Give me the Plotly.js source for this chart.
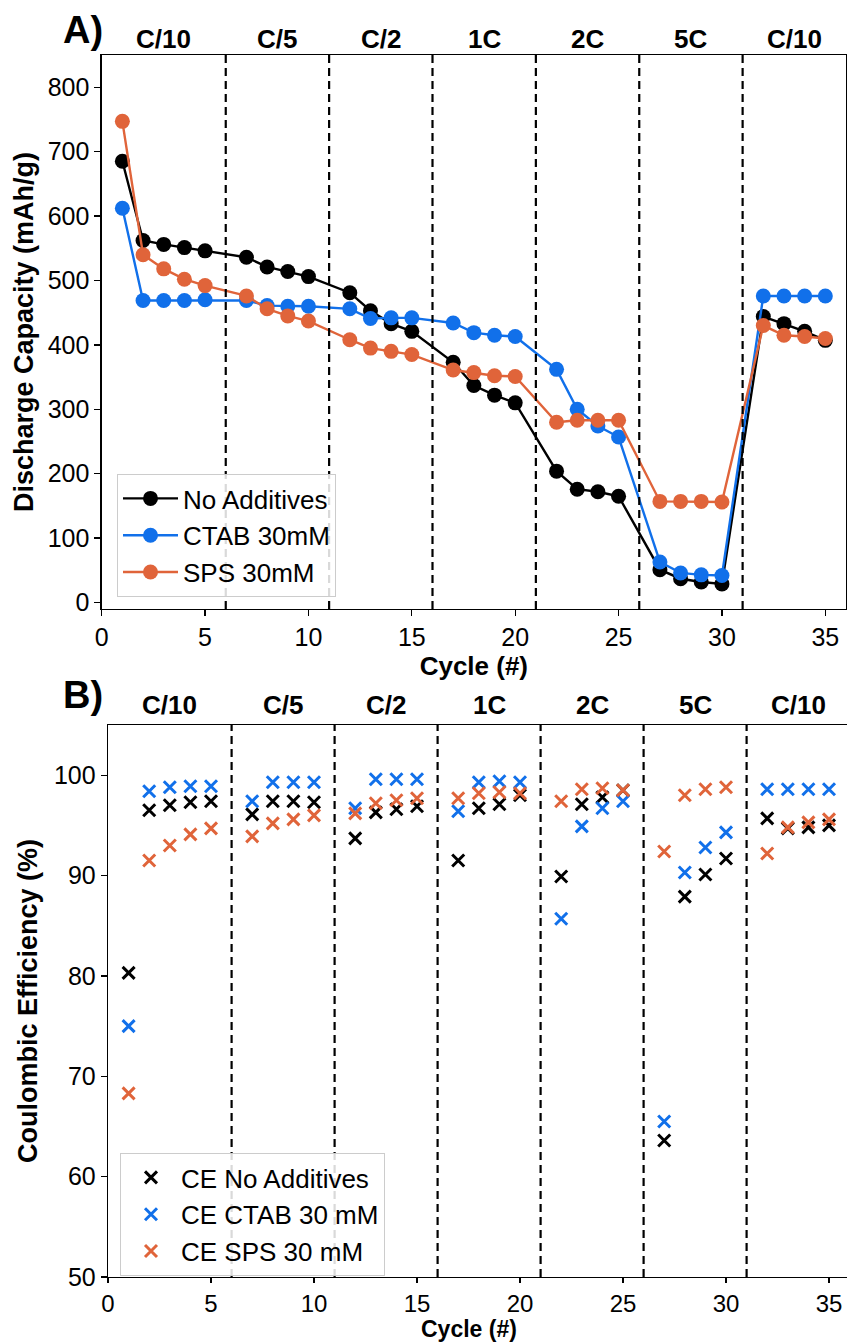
<!DOCTYPE html>
<html>
<head>
<meta charset="utf-8">
<script src="https://cdn.plot.ly/plotly-3.0.1.min.js"></script>
<style>
  html, body { margin: 0; padding: 0; overflow: hidden; background: #fff; }
  #chart { width: 852px; height: 1343px; }
</style>
</head>
<body>
<div id="chart"></div>
<script>
// ---------------- data ----------------
const cycles = [1,2,3,4,5, 7,8,9,10, 12,13,14,15, 17,18,19,20, 22,23,24,25, 27,28,29,30, 32,33,34,35];

const capNoAdditives = [685,562,556,551,546, 536,521,514,506, 481,453,433,421, 373,337,322,310, 204,176,172,165, 51,37,32,29, 444,433,421,407];
const capCTAB = [612,469,469,469,470, 469,461,460,460, 456,441,442,442, 434,419,415,413, 362,300,274,257, 63,46,43,42, 476,476,476,476];
const capSPS = [747,540,518,502,492, 476,456,445,437, 408,395,390,385, 361,357,352,351, 280,283,283,283, 157,157,157,156, 430,415,413,410];

const ceNoAdditives = [80.3,96.5,97.0,97.3,97.4, 96.1,97.4,97.4,97.3, 93.7,96.3,96.6,96.9, 91.5,96.7,97.1,98.0, 89.9,97.1,97.8,98.5, 63.6,87.9,90.1,91.7, 95.7,94.7,94.8,95.0];
const ceCTAB = [75.0,98.4,98.8,98.9,98.9, 97.4,99.3,99.3,99.3, 96.7,99.6,99.6,99.6, 96.4,99.3,99.4,99.3, 85.7,94.9,96.7,97.4, 65.5,90.3,92.8,94.3, 98.6,98.6,98.6,98.6];
const ceSPS = [68.3,91.5,93.0,94.1,94.7, 93.9,95.2,95.6,96.0, 96.2,97.2,97.5,97.7, 97.7,98.2,98.3,98.2, 97.4,98.6,98.7,98.5, 92.4,98.0,98.6,98.8, 92.2,94.8,95.3,95.6];

const rateLabels = ["C/10","C/5","C/2","1C","2C","5C","C/10"];
const rateDividers = [6, 11, 16, 21, 26, 31];
const xStart = 0, xEnd = 36;

const capNames = ["No Additives", "CTAB 30mM", "SPS 30mM"];
const ceNames = ["CE No Additives", "CE CTAB 30 mM", "CE SPS 30 mM"];

// ---------------- style ----------------
const BLACK = "#000000", BLUE = "#1170EA", ORANGE = "#E0643A";
const FONT = "'Liberation Sans', Arial, Helvetica, sans-serif";
const W = 852, H = 1343;

const capSeries = [capNoAdditives, capCTAB, capSPS];
const ceSeries = [ceNoAdditives, ceCTAB, ceSPS];
const colors = [BLACK, BLUE, ORANGE];

const traces = [];
capSeries.forEach((s, i) => {
  traces.push({
    x: cycles, y: s, name: capNames[i], type: "scatter", mode: "lines+markers",
    xaxis: "x", yaxis: "y", legend: "legend",
    line: { color: colors[i], width: 2.4 },
    marker: { color: colors[i], size: 15, symbol: "circle" }
  });
});
ceSeries.forEach((s, i) => {
  traces.push({
    x: cycles, y: s, name: ceNames[i], type: "scatter", mode: "markers",
    xaxis: "x2", yaxis: "y2", legend: "legend2",
    marker: { color: colors[i], size: 12, symbol: "x-thin", line: { color: colors[i], width: 3 } }
  });
});

// segment centres for rate labels
const bounds = [xStart].concat(rateDividers, [xEnd]);
const centers = rateLabels.map((_, i) => (bounds[i] + bounds[i + 1]) / 2);

const shapes = [];
rateDividers.forEach(d => {
  ["", "2"].forEach(k => {
    shapes.push({
      type: "line", xref: "x" + k, yref: "y" + k + " domain",
      x0: d, x1: d, y0: 0, y1: 1,
      line: { color: "#000", width: 2.2, dash: "8px,5px" }
    });
  });
});

const annotations = [];
rateLabels.forEach((t, i) => {
  annotations.push({ text: "<b>" + t + "</b>", x: centers[i], xref: "x", y: 1 - 39 / H, yref: "paper",
    showarrow: false, xanchor: "center", yanchor: "middle", font: { family: FONT, size: 26, color: "#000" } });
  annotations.push({ text: "<b>" + t + "</b>", x: centers[i], xref: "x2", y: 1 - 705 / H, yref: "paper",
    showarrow: false, xanchor: "center", yanchor: "middle", font: { family: FONT, size: 26, color: "#000" } });
});
annotations.push({ text: "<b>A)</b>", x: 83 / W, y: 1 - 30 / H, xref: "paper", yref: "paper", showarrow: false,
  xanchor: "center", yanchor: "middle", font: { family: FONT, size: 38, color: "#000" } });
annotations.push({ text: "<b>B)</b>", x: 83 / W, y: 1 - 695 / H, xref: "paper", yref: "paper", showarrow: false,
  xanchor: "center", yanchor: "middle", font: { family: FONT, size: 38, color: "#000" } });
// bottom panel x-axis title, resting on the bottom edge as in the reference
annotations.push({ text: "<b>Cycle (#)</b>", x: (xStart + xEnd) / 2 - 0.5, xref: "x2", y: 0, yref: "paper",
  showarrow: false, xanchor: "center", yanchor: "bottom", borderpad: 0,
  font: { family: FONT, size: 23, color: "#000" } });

const axisCommon = {
  showline: true, mirror: true, linecolor: "#000", linewidth: 1.3,
  ticks: "outside", ticklen: 6, tickwidth: 1.3, tickcolor: "#000",
  showgrid: false, zeroline: false,
  tickfont: { family: FONT, size: 25, color: "#000" }
};

const layout = {
  width: W, height: H,
  margin: { l: 0, r: 0, t: 0, b: 0 },
  paper_bgcolor: "#fff", plot_bgcolor: "#fff",
  showlegend: true,
  xaxis: Object.assign({}, axisCommon, {
    domain: [101.7 / W, 846 / W], range: [xStart, xEnd], tickvals: [0,5,10,15,20,25,30,35],
    anchor: "y",
    title: { text: "<b>Cycle (#)</b>", font: { family: FONT, size: 26, color: "#000" }, standoff: 4 }
  }),
  yaxis: Object.assign({}, axisCommon, {
    domain: [1 - 609 / H, 1 - 55 / H], range: [-10, 850], tickvals: [0,100,200,300,400,500,600,700,800],
    anchor: "x",
    title: { text: "<b>Discharge Capacity (mAh/g)</b>", font: { family: FONT, size: 27, color: "#000" }, standoff: 6 }
  }),
  xaxis2: Object.assign({}, axisCommon, {
    domain: [108 / W, 849.6 / W], range: [xStart, xEnd], tickvals: [0,5,10,15,20,25,30,35],
    anchor: "y2", ticklen: 5, tickfont: { family: FONT, size: 24, color: "#000" }
  }),
  yaxis2: Object.assign({}, axisCommon, {
    domain: [1 - 1277 / H, 1 - 725 / H], range: [50, 105], tickvals: [50,60,70,80,90,100],
    anchor: "x2",
    title: { text: "<b>Coulombic Efficiency (%)</b>", font: { family: FONT, size: 27, color: "#000" }, standoff: 8 }
  }),
  legend: {
    x: 117 / W, y: 1 - 474 / H, xanchor: "left", yanchor: "top",
    bgcolor: "rgba(255,255,255,0.85)", bordercolor: "#cccccc", borderwidth: 1,
    font: { family: FONT, size: 26, color: "#000" }, itemwidth: 55
  },
  legend2: {
    x: 120 / W, y: 1 - 1153 / H, xanchor: "left", yanchor: "top",
    bgcolor: "rgba(255,255,255,0.85)", bordercolor: "#cccccc", borderwidth: 1,
    font: { family: FONT, size: 26, color: "#000" }, itemwidth: 50
  },
  shapes: shapes,
  annotations: annotations
};

Plotly.newPlot("chart", traces, layout, { staticPlot: true, displayModeBar: false });
</script>
</body>
</html>
